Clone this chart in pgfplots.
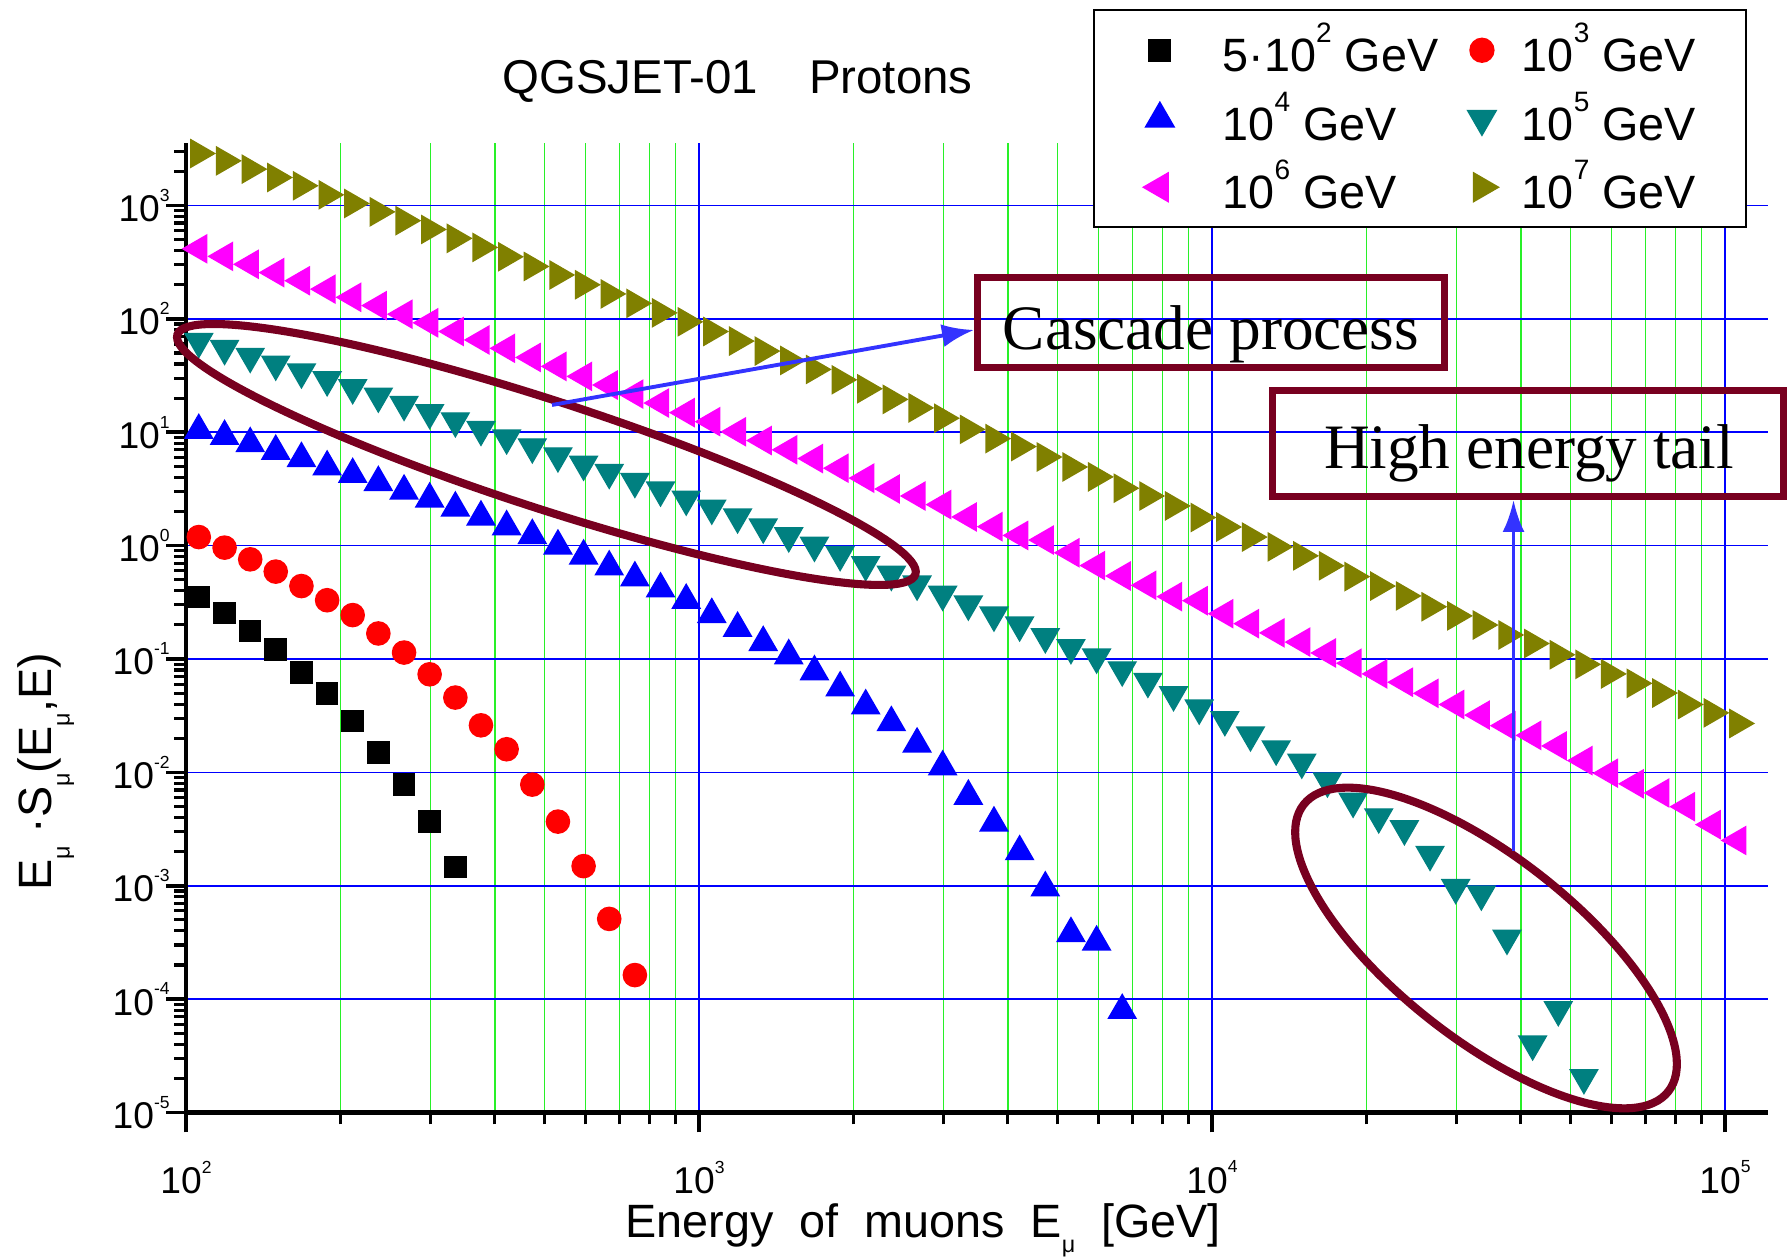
\documentclass[border=0pt]{standalone}
\usepackage{fontspec}
\setmainfont{Liberation Sans}
\newfontfamily\timesf{Liberation Serif}
\usepackage{pgfplots}
\usepackage{pgfplotstable}
\pgfplotsset{compat=1.18}
\usetikzlibrary{arrows.meta}

\definecolor{tealm}{RGB}{0,128,128}
\definecolor{olivem}{RGB}{128,128,0}
\definecolor{magm}{RGB}{255,0,255}
\definecolor{annot}{RGB}{120,0,32}
\definecolor{arrowc}{RGB}{51,51,255}
\definecolor{gridg}{RGB}{40,240,40}

% tick label 10^n, legend 10^n, tiny mu subscript
\newcommand\tk[1]{10\raisebox{0.54em}{\scalebox{0.47}{#1}}}
\newcommand\legp[1]{10\raisebox{0.62em}{\scalebox{0.6}{#1}}}
\newcommand\mus{\raisebox{-0.4em}{\scalebox{0.5}{μ}}}
\newcommand\musx{\raisebox{-0.32em}{\scalebox{0.5}{μ}}}

\pgfplotstableread{
x y
105.9 0.351
118.9 0.254
133.4 0.176
149.6 0.121
167.9 0.0762
188.4 0.0498
211.3 0.0283
237.1 0.0149
266.1 0.0078
298.5 0.00368
335.0 0.00146
}\tblack

\pgfplotstableread{
x y
105.9 1.19
118.9 0.96
133.4 0.757
149.6 0.59
167.9 0.44
188.4 0.33
211.3 0.244
237.1 0.168
266.1 0.114
298.5 0.0733
335.0 0.0457
375.8 0.026
421.7 0.016
473.2 0.0078
530.9 0.00368
595.7 0.00149
668.3 0.00051
749.9 0.000163
}\tred

\pgfplotstableread{
x y
105.9 10.4
118.9 9.2
133.4 7.94
149.6 6.81
167.9 5.87
188.4 4.95
211.3 4.25
237.1 3.61
266.1 3.03
298.5 2.58
335.0 2.15
375.8 1.79
421.7 1.47
473.2 1.23
530.9 0.993
595.7 0.811
668.3 0.650
749.9 0.520
841.4 0.416
944.1 0.330
1059 0.247
1189 0.187
1334 0.140
1496 0.107
1679 0.0773
1884 0.0557
2113 0.0387
2371 0.0275
2661 0.0178
2985 0.0112
3350 0.00617
3758 0.00358
4217 0.00200
4732 0.00096
5309 0.000379
5957 0.000319
6683 0.0000796
}\tblue

\pgfplotstableread{
x y
105.9 63.1
118.9 54.8
133.4 46.7
149.6 39.9
167.9 34.0
188.4 29.0
211.3 24.7
237.1 20.8
266.1 17.6
298.5 14.9
335.0 12.6
375.8 10.6
421.7 8.91
473.2 7.43
530.9 6.19
595.7 5.22
668.3 4.42
749.9 3.68
841.4 3.09
944.1 2.57
1059 2.14
1189 1.79
1334 1.46
1496 1.22
1679 1.007
1884 0.834
2113 0.679
2371 0.558
2661 0.458
2985 0.372
3350 0.305
3758 0.244
4217 0.1995
4732 0.157
5309 0.126
5957 0.104
6683 0.0802
7499 0.0635
8414 0.0484
9441 0.0369
10593 0.0292
11885 0.0214
13335 0.0161
14962 0.0123
16788 0.00839
18837 0.00556
21135 0.00405
23714 0.00318
26607 0.00189
29854 0.000964
33497 0.000845
37584 0.000344
42170 0.0000402
47315 0.0000807
53088 0.0000203
}\tteal

\pgfplotstableread{
x y
105.9 415
118.9 356
133.4 303
149.6 256
167.9 217
188.4 183
211.3 155
237.1 131
266.1 110
298.5 92.3
335.0 77.4
375.8 65.2
421.7 55.0
473.2 45.7
530.9 38.1
595.7 31.1
668.3 26.1
749.9 21.7
841.4 18.1
944.1 14.9
1059 12.4
1189 10.1
1334 8.45
1496 7.00
1679 5.86
1884 4.82
2113 3.94
2371 3.16
2661 2.74
2985 2.30
3350 1.79
3758 1.47
4217 1.23
4732 1.12
5309 0.865
5957 0.667
6683 0.540
7499 0.447
8414 0.355
9441 0.327
10593 0.251
11885 0.205
13335 0.170
14962 0.141
16788 0.113
18837 0.0918
21135 0.0739
23714 0.0624
26607 0.0498
29854 0.0397
33497 0.0320
37584 0.0258
42170 0.0212
47315 0.0171
53088 0.0127
59566 0.00984
66834 0.00793
74989 0.00658
84140 0.00498
94406 0.00346
105925 0.00251
}\tmag

\pgfplotstableread{
x y
105.9 2877
118.9 2477
133.4 2094
149.6 1766
167.9 1493
188.4 1242
211.3 1042
237.1 879
266.1 735
298.5 615
335.0 513
375.8 427
421.7 353
473.2 290
530.9 244
595.7 200
668.3 166
749.9 137
841.4 113
944.1 94.2
1059 77.4
1189 63.7
1334 52.0
1496 43.0
1679 35.8
1884 29.0
2113 24.2
2371 19.5
2661 16.4
2985 13.3
3350 10.6
3758 8.79
4217 7.48
4732 6.05
5309 4.94
5957 4.04
6683 3.21
7499 2.74
8414 2.24
9441 1.77
10593 1.46
11885 1.19
13335 0.975
14962 0.813
16788 0.664
18837 0.533
21135 0.440
23714 0.360
26607 0.289
29854 0.240
33497 0.1995
37584 0.163
42170 0.137
47315 0.109
53088 0.0897
59566 0.0739
66834 0.0610
74989 0.0501
84140 0.0397
94406 0.0335
105925 0.0270
}\tolive

\begin{document}
\begin{tikzpicture}
\useasboundingbox (0,0) rectangle (17.91,12.57);
\begin{axis}[
  at={(1.86cm,1.445cm)}, anchor=south west,
  scale only axis, width=15.82cm, height=9.69cm,
  xmode=log, ymode=log,
  xmin=100, xmax=121300, ymin=1e-5, ymax=3524,
  axis lines=left,
  x axis line style={-}, y axis line style={-},
  axis line style={line width=1.2pt, black},
  tick align=outside,
  major tick length=2mm, minor tick length=1.2mm,
  major tick style={line width=1pt, black},
  minor tick style={line width=0.9pt, black},
  xtick={100,1000,10000,100000},
  xticklabels={\tk{2},\tk{3},\tk{4},\tk{5}},
  minor xtick={200,300,400,500,600,700,800,900,2000,3000,4000,5000,6000,7000,8000,9000,20000,30000,40000,50000,60000,70000,80000,90000},
  ytick={0.00001,0.0001,0.001,0.01,0.1,1,10,100,1000},
  yticklabels={\tk{-5},\tk{-4},\tk{-3},\tk{-2},\tk{-1},\tk{0},\tk{1},\tk{2},\tk{3}},
  minor ytick={0.00002,0.00003,0.00004,0.00005,0.00006,0.00007,0.00008,0.00009,
    0.0002,0.0003,0.0004,0.0005,0.0006,0.0007,0.0008,0.0009,
    0.002,0.003,0.004,0.005,0.006,0.007,0.008,0.009,
    0.02,0.03,0.04,0.05,0.06,0.07,0.08,0.09,
    0.2,0.3,0.4,0.5,0.6,0.7,0.8,0.9,
    2,3,4,5,6,7,8,9,20,30,40,50,60,70,80,90,
    200,300,400,500,600,700,800,900,2000,3000},
  tick label style={font=\fontsize{10.6}{12}\selectfont},
  yticklabel style={xshift=1.6mm},
  xticklabel style={yshift=-1.6mm},
  xmajorgrids, ymajorgrids, xminorgrids,
  major grid style={blue, line width=0.45pt},
  minor grid style={gridg, line width=0.4pt},
  legend columns=2,
  legend cell align=left,
  legend style={at={(0.5733,1.1386)}, anchor=north west, draw=black,
    line width=0.6pt, fill=white, inner xsep=5mm, inner ysep=1.45mm,
    font=\fontsize{13.3}{15}\selectfont, row sep=1.75mm,
    nodes={inner sep=0pt, text height=4.7mm, text depth=0.4mm},
    /tikz/column 1/.style={column sep=4.9mm},
    /tikz/column 2/.style={column sep=3.0mm},
    /tikz/column 3/.style={column sep=2.4mm}},
]
\addplot[only marks, mark=square*, mark size=3pt, color=black] table {\tblack};
\addlegendentry{5·\legp{2} GeV}
\addplot[only marks, mark=*, mark size=3.3pt, color=red] table {\tred};
\addlegendentry{\legp{3} GeV}
\addplot[only marks, mark=triangle*, mark size=4.5pt, color=blue] table {\tblue};
\addlegendentry{\legp{4} GeV}
\addplot[only marks, mark=triangle*, mark size=4.5pt, color=tealm, mark options={rotate=180}] table {\tteal};
\addlegendentry{\legp{5} GeV}
\addplot[only marks, mark=triangle*, mark size=4.5pt, color=magm, mark options={rotate=90}] table {\tmag};
\addlegendentry{\legp{6} GeV}
\addplot[only marks, mark=triangle*, mark size=4.5pt, color=olivem, mark options={rotate=-90}] table {\tolive};
\addlegendentry{\legp{7} GeV}
\end{axis}

% title and axis labels
\node[font=\fontsize{13.5}{15}\selectfont, anchor=base] at (7.375,11.63) {QGSJET-01\hspace{5.1mm}Protons};
\node[font=\fontsize{13.3}{15}\selectfont, anchor=base] at (9.23,0.19) {Energy\ \ of\ \ muons\ \ E\musx\ \ [GeV]};
\node[font=\fontsize{13.3}{15}\selectfont, rotate=90, anchor=base] at (0.51,4.85) {E\mus\ ·S\mus(E\mus,E)};

% annotations
\draw[annot, line width=2.3pt, shift={(5.464,8.025)}, rotate=-18] (0,0) ellipse (3.88 and 0.54);
\draw[annot, line width=2.3pt, shift={(14.86,3.09)}, rotate=-38.2] (0,0) ellipse (2.32 and 0.91);
\draw[annot, line width=2pt] (9.77,9.79) rectangle (14.44,8.89);
\node[font=\timesf\fontsize{18}{20}\selectfont, anchor=base] at (12.11,9.075) {Cascade process};
\draw[annot, line width=2pt] (12.72,8.665) rectangle (17.83,7.605);
\node[font=\timesf\fontsize{18}{20}\selectfont, anchor=base] at (15.29,7.88) {High energy tail};
\draw[arrowc, line width=1.1pt, -{Latex[length=3.2mm,width=2.3mm]}] (5.52,8.52) -- (9.74,9.27);
\draw[arrowc, line width=1.1pt, -{Latex[length=3.2mm,width=2.2mm]}] (15.135,4.06) -- (15.135,7.57);
\end{tikzpicture}
\end{document}
